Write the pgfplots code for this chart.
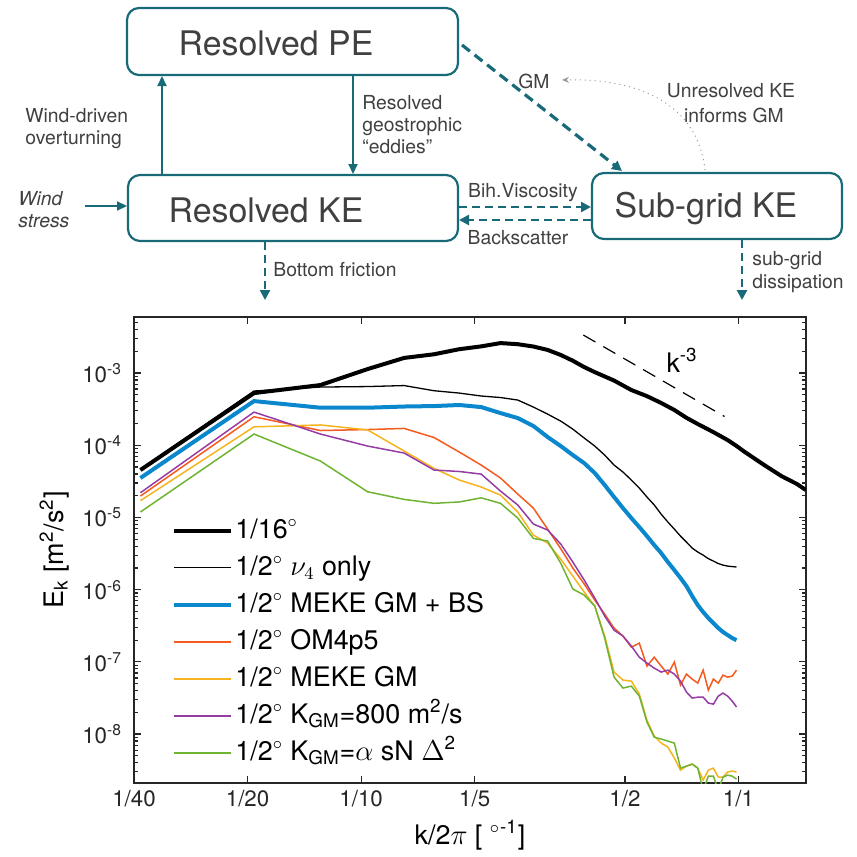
\documentclass[border=0pt]{standalone}
\usepackage{pgfplots}
\pgfplotsset{compat=1.18}
\usepackage{fontspec}
\setmainfont{TeX Gyre Heros}
\usetikzlibrary{arrows.meta}
\definecolor{teal1}{RGB}{24,106,121}
\definecolor{dgrey}{RGB}{64,64,64}
\definecolor{axgrey}{RGB}{38,38,38}
\definecolor{cblue}{RGB}{10,135,205}
\definecolor{corange}{RGB}{245,90,30}
\definecolor{cyellow}{RGB}{245,180,30}
\definecolor{cpurple}{RGB}{150,60,165}
\definecolor{cgreen}{RGB}{110,180,50}
\begin{document}
\begin{tikzpicture}
\begin{scope}[x=0.5bp,y=-0.5bp, every node/.style={text=dgrey, inner sep=0pt}]
\useasboundingbox (0,0) rectangle (857,851);
\tikzset{bx/.style={teal1, line width=1.1bp, rounded corners=6bp},
  sa/.style={teal1, line width=1.1bp, -{Triangle[length=5bp,width=4.5bp]}},
  dsh/.style={teal1, line width=1.3bp, dash pattern=on 4bp off 2.5bp, -{Triangle[length=5bp,width=5bp]}},
  small/.style={font=\fontsize{9.7}{11}\selectfont}}
\draw[bx] (127,8) rectangle (458,75);
\draw[bx] (128,175) rectangle (458,241);
\draw[bx] (592,173) rectangle (842,239);
\node[anchor=base, font=\fontsize{17}{20}\selectfont] at (276,55) {Resolved PE};
\node[anchor=base, font=\fontsize{17}{20}\selectfont] at (266,222) {Resolved KE};
\node[anchor=base, font=\fontsize{17}{20}\selectfont] at (706,217) {Sub-grid KE};
\draw[sa] (162,175) -- (162,76);
\draw[sa] (353,75) -- (353,174);
\draw[sa] (85,206) -- (127,206);
\draw[dsh] (459,207) -- (591,207);
\draw[dsh] (591,220) -- (459,220);
\draw[dsh] (265,242) -- (265,300);
\draw[dsh] (742,240) -- (742,300);
\draw[dsh, line width=1.6bp, dash pattern=on 5bp off 3bp] (462,45) -- (622,171);
\draw[gray!80, line width=0.5bp, dotted, -{Stealth[length=3.5bp,width=3bp]}] (705,170) .. controls (698,105) and (640,78) .. (562,80);
\node[small, anchor=base west] at (25,122) {Wind-driven};
\node[small, anchor=base west] at (25,144) {overturning};
\node[small, anchor=base west] at (362,109) {Resolved};
\node[small, anchor=base west] at (362,131) {geostrophic};
\node[small, anchor=base west] at (362,153) {``eddies''};
\node[small, anchor=base west] at (18,205) {\itshape Wind};
\node[small, anchor=base west] at (18,227) {\itshape stress};
\node[small, anchor=base west] at (273,276) {Bottom friction};
\node[small, anchor=base west] at (518,88) {GM};
\node[small, anchor=base] at (731,97) {Unresolved KE};
\node[small, anchor=base] at (734,122) {informs GM};
\node[small, anchor=base] at (523,197) {Bih.Viscosity};
\node[small, anchor=base] at (518,244) {Backscatter};
\node[small, anchor=base west] at (752,265) {sub-grid};
\node[small, anchor=base west] at (752,288) {dissipation};
\end{scope}
\begin{axis}[
  at={(67bp,-391.5bp)}, anchor=south west,
  width=336bp, height=233bp, scale only axis,
  xmode=log, ymode=log,
  xmin=0.025, xmax=1.51, ymin=2.1e-9, ymax=5.97e-3,
  xtick={0.025,0.05,0.1,0.2,0.5,1},
  xticklabels={1/40,1/20,1/10,1/5,1/2,1/1},
  ytick={1e-8,1e-7,1e-6,1e-5,1e-4,1e-3},
  yticklabels={10\textsuperscript{-8},10\textsuperscript{-7},10\textsuperscript{-6},10\textsuperscript{-5},10\textsuperscript{-4},10\textsuperscript{-3}},
  minor xtick={},
  minor ytick={3e-9,4e-9,5e-9,6e-9,7e-9,8e-9,9e-9,
    2e-8,3e-8,4e-8,5e-8,6e-8,7e-8,8e-8,9e-8,
    2e-7,3e-7,4e-7,5e-7,6e-7,7e-7,8e-7,9e-7,
    2e-6,3e-6,4e-6,5e-6,6e-6,7e-6,8e-6,9e-6,
    2e-5,3e-5,4e-5,5e-5,6e-5,7e-5,8e-5,9e-5,
    2e-4,3e-4,4e-4,5e-4,6e-4,7e-4,8e-4,9e-4,
    2e-3,3e-3,4e-3,5e-3},
  tick align=inside,
  major tick length=3.5bp, minor tick length=2bp,
  axis line style={axgrey, line width=0.75bp},
  every tick/.style={axgrey, line width=0.6bp},
  ticklabel style={font=\fontsize{11.2}{12}\selectfont, text=axgrey},
  yticklabel style={xshift=-2.5bp},
  label style={font=\fontsize{13.5}{15}\selectfont},
  xlabel={k/2$\pi$ [ $^{\circ}$\textsuperscript{-1}]},
  ylabel={E\textsubscript{k} [m\textsuperscript{2}/s\textsuperscript{2}]},
  ylabel style={at={(axis description cs:-0.0863,0.5)}, anchor=south, rotate=0},
  legend cell align=left,
  legend style={at={(axis description cs:0.0476,0.586)}, anchor=north west,
    draw=none, fill=none, font=\fontsize{13.5}{16}\selectfont,
    row sep=2bp, nodes={inner sep=1bp, text height=11bp, text depth=3.5bp}},
  legend image code/.code={\draw[#1] (0bp,0bp) -- (28.5bp,0bp);},
]
\addplot[black, line width=2bp] coordinates {(0.026,4.54e-5) (0.052,5.28e-4) (0.078,6.82e-4) (0.104,1.135e-3) (0.130,1.62e-3) (0.156,1.82e-3) (0.182,2.14e-3) (0.208,2.34e-3) (0.234,2.60e-3) (0.260,2.51e-3) (0.286,2.33e-3) (0.312,2.09e-3) (0.338,1.78e-3) (0.364,1.48e-3) (0.390,1.21e-3) (0.416,1.03e-3) (0.468,7.87e-4) (0.520,5.82e-4) (0.572,4.79e-4) (0.624,3.85e-4) (0.676,3.08e-4) (0.728,2.40e-4) (0.780,1.97e-4) (0.858,1.52e-4) (0.936,1.18e-4) (0.988,9.77e-5) (1.04,8.05e-5) (1.17,5.32e-5) (1.30,3.74e-5) (1.43,2.90e-5) (1.508,2.40e-5)};
\addlegendentry{1/16$^\circ$}
\addplot[black, line width=0.65bp] coordinates {(0.026,4.68e-5) (0.052,5.64e-4) (0.078,6.40e-4) (0.104,6.50e-4) (0.130,6.71e-4) (0.156,5.69e-4) (0.182,5.28e-4) (0.208,4.81e-4) (0.234,4.58e-4) (0.260,4.23e-4) (0.286,3.38e-4) (0.312,2.70e-4) (0.338,2.16e-4) (0.364,1.67e-4) (0.390,1.26e-4) (0.416,9.75e-5) (0.442,7.31e-5) (0.468,5.32e-5) (0.494,4.26e-5) (0.520,3.30e-5) (0.546,2.55e-5) (0.572,1.92e-5) (0.598,1.49e-5) (0.624,1.11e-5) (0.650,8.63e-6) (0.676,6.90e-6) (0.702,5.52e-6) (0.728,4.56e-6) (0.754,3.77e-6) (0.780,3.32e-6) (0.806,3.01e-6) (0.832,2.69e-6) (0.858,2.49e-6) (0.884,2.30e-6) (0.910,2.19e-6) (0.936,2.12e-6) (0.962,2.09e-6) (0.988,2.06e-6)};
\addlegendentry{1/2$^\circ$\ $\nu_4$ only}
\addplot[cblue, line width=2bp] coordinates {(0.026,3.52e-5) (0.052,4.09e-4) (0.078,3.31e-4) (0.104,3.31e-4) (0.130,3.44e-4) (0.156,3.49e-4) (0.182,3.61e-4) (0.208,3.38e-4) (0.234,2.79e-4) (0.260,2.38e-4) (0.286,1.85e-4) (0.312,1.30e-4) (0.338,9.75e-5) (0.364,7.31e-5) (0.390,5.66e-5) (0.416,4.12e-5) (0.442,2.81e-5) (0.468,1.92e-5) (0.494,1.35e-5) (0.520,9.82e-6) (0.546,7.36e-6) (0.572,5.52e-6) (0.598,4.15e-6) (0.624,3.21e-6) (0.650,2.41e-6) (0.676,1.87e-6) (0.702,1.45e-6) (0.728,1.12e-6) (0.754,8.15e-7) (0.780,6.12e-7) (0.806,4.90e-7) (0.832,4.05e-7) (0.858,3.44e-7) (0.884,2.94e-7) (0.910,2.59e-7) (0.936,2.35e-7) (0.962,2.14e-7) (0.988,2.00e-7)};
\addlegendentry{1/2$^\circ$\ MEKE GM + BS}
\addplot[corange, line width=0.75bp] coordinates {(0.026,1.98e-5) (0.052,2.48e-4) (0.078,1.60e-4) (0.104,1.65e-4) (0.130,1.71e-4) (0.156,1.28e-4) (0.182,8.05e-5) (0.208,5.32e-5) (0.234,3.52e-5) (0.260,2.11e-5) (0.286,1.35e-5) (0.312,6.90e-6) (0.338,3.70e-6) (0.364,1.99e-6) (0.390,1.20e-6) (0.416,7.18e-7) (0.442,4.59e-7) (0.468,2.94e-7) (0.494,2.28e-7) (0.520,1.60e-7) (0.546,1.82e-7) (0.572,8.75e-8) (0.598,1.16e-7) (0.624,8.75e-8) (0.650,6.78e-8) (0.676,9.93e-8) (0.702,4.78e-8) (0.728,6.78e-8) (0.754,5.78e-8) (0.780,5.08e-8) (0.806,7.69e-8) (0.832,4.07e-8) (0.858,5.78e-8) (0.884,5.08e-8) (0.910,6.56e-8) (0.936,6.15e-8) (0.962,6.35e-8) (0.988,7.69e-8)};
\addlegendentry{1/2$^\circ$\ OM4p5}
\addplot[cyellow, line width=0.75bp] coordinates {(0.026,1.71e-5) (0.052,1.80e-4) (0.078,1.91e-4) (0.104,1.63e-4) (0.130,8.32e-5) (0.156,4.79e-5) (0.182,3.30e-5) (0.208,2.64e-5) (0.234,2.04e-5) (0.260,1.19e-5) (0.286,5.70e-6) (0.312,4.42e-6) (0.338,2.65e-6) (0.364,1.54e-6) (0.390,9.27e-7) (0.416,5.93e-7) (0.442,2.28e-7) (0.468,7.23e-8) (0.494,5.60e-8) (0.520,5.42e-8) (0.546,3.58e-8) (0.572,1.56e-8) (0.598,9.38e-9) (0.624,7.50e-9) (0.650,6.61e-9) (0.676,4.66e-9) (0.702,3.17e-9) (0.728,3.60e-9) (0.754,3.84e-9) (0.780,3.38e-9) (0.806,2.31e-9) (0.832,3.17e-9) (0.858,3.38e-9) (0.884,2.54e-9) (0.910,2.54e-9) (0.936,2.98e-9) (0.962,3.08e-9) (0.988,2.98e-9)};
\addlegendentry{1/2$^\circ$\ MEKE GM}
\addplot[cpurple, line width=0.75bp] coordinates {(0.026,2.20e-5) (0.052,2.88e-4) (0.078,1.43e-4) (0.104,9.75e-5) (0.130,7.80e-5) (0.156,4.54e-5) (0.182,4.33e-5) (0.208,3.99e-5) (0.234,2.32e-5) (0.260,1.49e-5) (0.286,8.11e-6) (0.312,6.70e-6) (0.338,4.29e-6) (0.364,2.41e-6) (0.390,1.36e-6) (0.416,7.66e-7) (0.442,4.31e-7) (0.468,2.75e-7) (0.494,2.28e-7) (0.520,1.66e-7) (0.546,1.16e-7) (0.572,9.62e-8) (0.598,8.20e-8) (0.624,7.23e-8) (0.650,7.69e-8) (0.676,6.78e-8) (0.702,5.42e-8) (0.728,3.82e-8) (0.754,3.15e-8) (0.780,3.25e-8) (0.806,3.25e-8) (0.832,2.69e-8) (0.858,2.60e-8) (0.884,3.36e-8) (0.910,3.70e-8) (0.936,3.36e-8) (0.962,2.86e-8) (0.988,2.37e-8)};
\addlegendentry{1/2$^\circ$\ K\textsubscript{GM}=800 m\textsuperscript{2}/s}
\addplot[cgreen, line width=0.75bp] coordinates {(0.026,1.19e-5) (0.052,1.43e-4) (0.078,6.04e-5) (0.104,2.27e-5) (0.130,1.78e-5) (0.156,1.57e-5) (0.182,1.64e-5) (0.208,1.87e-5) (0.234,1.57e-5) (0.260,9.82e-6) (0.286,5.13e-6) (0.312,4.71e-6) (0.338,2.33e-6) (0.364,1.02e-6) (0.390,8.41e-7) (0.416,5.93e-7) (0.442,2.14e-7) (0.468,6.15e-8) (0.494,4.34e-8) (0.520,4.62e-8) (0.546,3.36e-8) (0.572,1.47e-8) (0.598,9.08e-9) (0.624,8.53e-9) (0.650,8.00e-9) (0.676,7.50e-9) (0.702,3.38e-9) (0.728,3.60e-9) (0.754,3.84e-9) (0.780,3.38e-9) (0.806,1.67e-9) (0.832,2.62e-9) (0.858,2.62e-9) (0.884,1.67e-9) (0.910,2.54e-9) (0.936,2.70e-9) (0.962,2.62e-9) (0.988,2.38e-9)};
\addlegendentry{1/2$^\circ$\ K\textsubscript{GM}=$\alpha$ sN $\Delta$\textsuperscript{2}}
\addplot[black, line width=0.6bp, dash pattern=on 7bp off 4.5bp, forget plot] coordinates {(0.388,3.36e-3) (0.9185,2.5e-4)};
\node[anchor=base west, font=\fontsize{13.5}{15}\selectfont, inner sep=0pt] at (axis cs:0.643,1.03e-3) {k\textsuperscript{-3}};
\end{axis}
\end{tikzpicture}
\end{document}
